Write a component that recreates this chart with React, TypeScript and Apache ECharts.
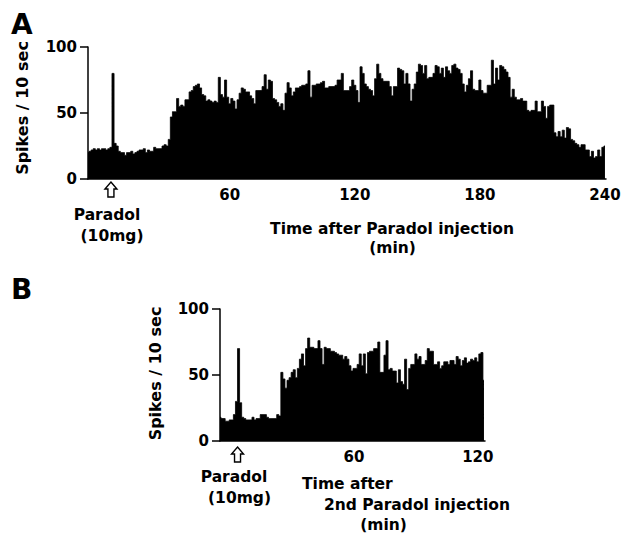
import React, { useEffect, useRef } from "react";
import * as echarts from "echarts";

// Panel A: spikes per 10 sec, one value per minute, starting at t = -8 min
const startA = -8;
const valuesA = [
  20, 21, 22, 23, 22, 23, 22, 23,
  23, 22, 23, 24, 80, 27, 25, 21, 20, 20,
  18, 20, 20, 21, 19, 20, 21, 22, 22, 23,
  20, 22, 21, 21, 24, 23, 23, 23, 25, 26,
  25, 30, 47, 51, 51, 61, 55, 56, 55, 60,
  60, 66, 67, 70, 71, 72, 69, 64, 63, 59,
  60, 59, 58, 59, 58, 77, 64, 62, 75, 62,
  57, 61, 59, 53, 60, 65, 69, 68, 66, 66,
  63, 61, 57, 67, 67, 67, 70, 79, 68, 75,
  74, 61, 60, 58, 55, 57, 52, 65, 73, 69,
  63, 66, 69, 69, 70, 71, 71, 72, 82, 62,
  71, 71, 72, 72, 73, 74, 69, 69, 70, 70,
  70, 71, 75, 75, 80, 67, 67, 67, 70, 75,
  71, 67, 58, 85, 80, 72, 70, 68, 67, 63,
  76, 87, 80, 76, 74, 74, 74, 70, 63, 70,
  70, 84, 83, 82, 72, 80, 72, 59, 68, 72,
  81, 87, 86, 80, 86, 76, 77, 77, 80, 86,
  85, 80, 84, 77, 85, 82, 80, 86, 87, 84,
  83, 80, 72, 66, 71, 76, 82, 68, 67, 67,
  75, 67, 65, 65, 71, 71, 90, 72, 84, 75,
  86, 85, 83, 81, 77, 62, 68, 62, 60, 60,
  61, 59, 59, 52, 51, 52, 52, 59, 51, 51,
  59, 55, 46, 55, 56, 56, 35, 32, 36, 32,
  37, 31, 39, 38, 30, 29, 27, 26, 24, 26,
  26, 22, 22, 17, 21, 16, 17, 22, 17, 24, 25,
];

// Panel B: one value per minute, starting at t = -5 min
const startB = -5;
const valuesB = [
  18, 17, 17, 15, 15,
  16, 16, 20, 30, 70, 29, 18, 17, 16, 16,
  16, 18, 16, 17, 17, 20, 20, 20, 18, 17,
  17, 17, 17, 20, 19, 52, 47, 40, 46, 48,
  52, 54, 48, 55, 62, 66, 57, 70, 78, 71,
  71, 70, 70, 76, 70, 58, 71, 70, 70, 68,
  68, 67, 66, 65, 65, 62, 64, 62, 57, 53,
  55, 55, 58, 66, 57, 66, 51, 67, 68, 68,
  70, 70, 75, 52, 52, 65, 76, 54, 55, 53,
  53, 44, 54, 45, 43, 62, 39, 55, 58, 58,
  66, 62, 64, 58, 58, 61, 70, 68, 68, 58,
  58, 60, 55, 57, 60, 60, 58, 61, 61, 58,
  64, 62, 57, 61, 63, 59, 60, 62, 61, 63,
  60, 66, 67, 46,
];

const xTicksA = [60, 120, 180, 240];
const xTicksB = [60, 120];
const injectionA = 3;
const injectionB = 3.5;

const FONT = "'DejaVu Sans', sans-serif";

const txt = (
  text: string,
  x: number,
  y: number,
  opts: { align?: string; size?: number; rotation?: number } = {}
) => ({
  type: "text",
  x,
  y,
  rotation: opts.rotation || 0,
  style: {
    text,
    fill: "#000",
    font: `bold ${opts.size || 15.5}px ${FONT}`,
    align: opts.align || "center",
    verticalAlign: "middle",
  },
});

const arrow = (cx: number, top: number) => ({
  type: "polygon",
  x: cx,
  y: top,
  shape: {
    points: [
      [0, 0],
      [6, 7],
      [3, 7],
      [3, 15],
      [-3, 15],
      [-3, 7],
      [-6, 7],
    ],
  },
  style: { fill: "#fff", stroke: "#000", lineWidth: 1.4 },
});

export default function App() {
  const ref = useRef<HTMLDivElement>(null);
  useEffect(() => {
    document.body.style.margin = "0";
    const chart = echarts.init(ref.current!, null, { renderer: "svg" });
    const dataA = valuesA.map((v, i) => [startA + i, v]);
    const dataB = valuesB.map((v, i) => [startB + i, v]);

    const axisLine = { show: true, onZero: false, lineStyle: { color: "#000", width: 1.5 } };
    const labelStyle = { color: "#000", fontWeight: "bold", fontFamily: FONT, fontSize: 15 };

    const xAxis = (min: number, max: number, ticks: number[], grid: number) => ({
      type: "value",
      gridIndex: grid,
      min,
      max,
      axisLine,
      axisTick: { show: false },
      splitLine: { show: false },
      axisLabel: { ...labelStyle, margin: 8, customValues: ticks, showMinLabel: true, showMaxLabel: true },
    });
    const yAxis = (grid: number) => ({
      type: "value",
      gridIndex: grid,
      min: 0,
      max: 100,
      interval: 50,
      axisLine,
      axisTick: { show: true, inside: false, length: 8, lineStyle: { color: "#000", width: 1.5 } },
      splitLine: { show: false },
      axisLabel: { ...labelStyle, margin: 11 },
    });

    const histo = (data: number[][], idx: number) => ({
      type: "line",
      xAxisIndex: idx,
      yAxisIndex: idx,
      data,
      step: "middle",
      symbol: "none",
      lineStyle: { color: "#000", width: 0.8 },
      areaStyle: { color: "#000", opacity: 1 },
      z: 1,
    });

    chart.setOption({
      animation: false,
      backgroundColor: "#fff",
      grid: [
        { left: 88, top: 47, width: 518, height: 132 },
        { left: 220, top: 309, width: 265, height: 132 },
      ],
      xAxis: [xAxis(-8, 240.5, xTicksA, 0), xAxis(-5, 123.5, xTicksB, 1)],
      yAxis: [yAxis(0), yAxis(1)],
      series: [histo(dataA, 0), histo(dataB, 1)],
    });

    const axA = chart.convertToPixel({ xAxisIndex: 0 }, injectionA) as number;
    const axB = chart.convertToPixel({ xAxisIndex: 1 }, injectionB) as number;

    chart.setOption({
      graphic: [
        txt("A", 11, 24, { align: "left", size: 28 }),
        txt("B", 11, 289, { align: "left", size: 28 }),
        txt("Spikes / 10 sec", 22.5, 108, { rotation: Math.PI / 2, size: 16 }),
        txt("Spikes / 10 sec", 155.5, 373.5, { rotation: Math.PI / 2, size: 16 }),
        arrow(axA, 182),
        arrow(axB, 447),
        txt("Paradol", 107, 215),
        txt("(10mg)", 112, 236),
        txt("Time after Paradol injection", 392, 229),
        txt("(min)", 392.5, 248),
        txt("Paradol", 234, 477),
        txt("(10mg)", 239.5, 498),
        txt("Time after", 302, 483.5, { align: "left" }),
        txt("2nd Paradol injection", 417, 505),
        txt("(min)", 383.5, 525),
      ],
    });

    return () => chart.dispose();
  }, []);
  return <div ref={ref} style={{ width: 625, height: 540 }} />;
}
